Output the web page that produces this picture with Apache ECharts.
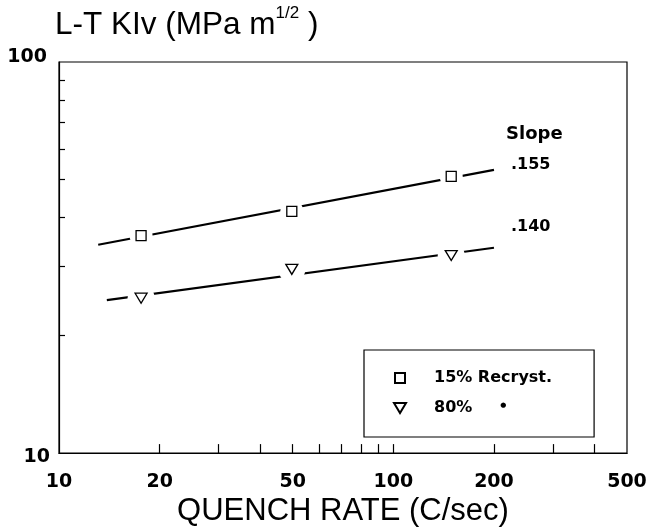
<!DOCTYPE html>
<html><head><meta charset="utf-8">
<script src="https://cdn.jsdelivr.net/npm/echarts@6/dist/echarts.min.js"></script>
<style>html,body{margin:0;padding:0;background:#fff}#c{width:650px;height:532px}</style>
</head><body><div id="c"></div>
<script>
// ---- data ----
const seriesNames = ['15% Recryst.', '80%'];
const quenchRates = [17.6, 49.7, 149];
const kiv15 = [36.0, 41.5, 51.0];
const kiv80 = [24.9, 29.5, 32.0];
const fitRates15 = [13.1, 200];
const fitKiv15 = [34.1, 53.0];
const fitRates80 = [13.9, 200];
const fitKiv80 = [24.6, 33.5];
const slopes = ['.155', '.140'];
const xLabelValues = [10, 20, 50, 100, 200, 500];
const xTickValues = [20, 30, 40, 50, 60, 70, 80, 90, 100, 200, 300, 400];
const yLabelValues = [10, 100];
const yTickValues = [20, 30, 40, 50, 60, 70, 80, 90];

const pair = (xs, ys) => xs.map((x, i) => [x, ys[i]]);
const TRI = 'path://M0,0L12,0L6,10Z';
const SQR = 'path://M0,0L10,0L10,10L0,10Z';
const BOLD = 'DejaVu Sans';
const SANS = 'Liberation Sans';

const chart = echarts.init(document.getElementById('c'), null, {renderer: 'canvas'});
chart.setOption({
  animation: false,
  backgroundColor: '#fff',
  title: [
    {
      text: '{a|L-T KIv (MPa m}{s|1/2}{a| )}',
      left: 50, top: 0,
      textStyle: {
        fontWeight: 'normal',
        rich: {
          a: {fontFamily: SANS, fontWeight: 'normal', fontSize: 31.5, color: '#000', lineHeight: 40},
          s: {fontFamily: SANS, fontWeight: 'normal', fontSize: 17, color: '#000', verticalAlign: 'top', lineHeight: 17}
        }
      }
    },
    {
      text: 'Slope', left: 501, top: 120,
      textStyle: {fontFamily: BOLD, fontWeight: 'bold', fontSize: 18, color: '#000'}
    }
  ],
  grid: {left: 59, right: 23, top: 62, bottom: 78, show: true, borderColor: '#000', borderWidth: 1.2,
    backgroundColor: 'transparent'},
  xAxis: {
    type: 'log', logBase: 10, min: 10, max: 500,
    name: 'QUENCH RATE (C/sec)', nameLocation: 'middle', nameGap: 42,
    nameTextStyle: {fontFamily: SANS, fontSize: 31, color: '#000', lineHeight: 28},
    axisLine: {show: true, lineStyle: {color: '#000', width: 1.2}},
    axisTick: {show: true, inside: true, length: 9, customValues: xTickValues, lineStyle: {color: '#000', width: 1.2}},
    axisLabel: {show: true, customValues: xLabelValues, margin: 19, fontFamily: BOLD, fontWeight: 'bold', fontSize: 19, color: '#000', formatter: v => String(Math.round(v))},
    splitLine: {show: false}, minorTick: {show: false}
  },
  yAxis: {
    type: 'log', logBase: 10, min: 10, max: 100,
    axisLine: {show: true, lineStyle: {color: '#000', width: 1.2}},
    axisTick: {show: true, inside: true, length: 6, customValues: yTickValues, lineStyle: {color: '#000', width: 1.2}},
    axisLabel: {
      show: true, customValues: yLabelValues, margin: 9,
      formatter: v => (Math.round(v) === 100 ? '{t|100}' : '{b|10}'),
      rich: {
        t: {fontFamily: BOLD, fontWeight: 'bold', fontSize: 19, color: '#000', padding: [0, 3, 10, 0]},
        b: {fontFamily: BOLD, fontWeight: 'bold', fontSize: 19, color: '#000', padding: [8, 0, 0, 0]}
      }
    },
    splitLine: {show: false}, minorTick: {show: false}
  },
  legend: {
    data: [{name: seriesNames[0], icon: SQR}, {name: seriesNames[1], icon: TRI}],
    orient: 'vertical', left: 364, top: 350,
    padding: [19, 42, 20, 29], itemWidth: 12, itemHeight: 10, itemGap: 12,
    borderColor: '#000', borderWidth: 1.2, selectedMode: false,
    textStyle: {fontFamily: BOLD, fontWeight: 'bold', fontSize: 16, color: '#000', lineHeight: 18,
      rich: {
        n: {fontFamily: BOLD, fontWeight: 'bold', fontSize: 16, color: '#000', lineHeight: 18, padding: [0, 0, 0, 23]},
        d: {fontSize: 7, color: '#000', padding: [0, 0, 6, 28]}
      }},
    formatter: name => (name === seriesNames[1] ? '{n|' + name + '}{d|\u25CF}' : '{n|' + name + '}')
  },
  series: [
    {
      name: 'fit15', type: 'line', data: pair(fitRates15, fitKiv15), showSymbol: false, z: 2,
      lineStyle: {color: '#000', width: 2.2},
      endLabel: {show: true, formatter: slopes[0], offset: [9, -5], fontFamily: BOLD, fontWeight: 'bold', fontSize: 16, color: '#000'}
    },
    {
      name: 'fit80', type: 'line', data: pair(fitRates80, fitKiv80), showSymbol: false, z: 2,
      lineStyle: {color: '#000', width: 2.2},
      endLabel: {show: true, formatter: slopes[1], offset: [9, -21], fontFamily: BOLD, fontWeight: 'bold', fontSize: 16, color: '#000'}
    },
    {
      name: 'halo15', type: 'scatter', data: pair(quenchRates, kiv15), symbol: 'circle', symbolSize: 23, z: 3,
      itemStyle: {color: '#fff', opacity: 1}, silent: true
    },
    {
      name: 'halo80', type: 'scatter', data: pair(quenchRates, kiv80), symbol: 'circle', symbolSize: 27, z: 3,
      itemStyle: {color: '#fff', opacity: 1}, silent: true
    },
    {
      name: seriesNames[0], type: 'scatter', data: pair(quenchRates, kiv15), symbol: SQR, symbolSize: 10, z: 4,
      itemStyle: {color: '#fff', borderColor: '#000', borderWidth: 1.3, opacity: 1}
    },
    {
      name: seriesNames[1], type: 'scatter', data: pair(quenchRates, kiv80), symbol: TRI, symbolSize: [12, 10], z: 4,
      itemStyle: {color: '#fff', borderColor: '#000', borderWidth: 1.3, opacity: 1}
    }
  ]
});
</script>
</body></html>
